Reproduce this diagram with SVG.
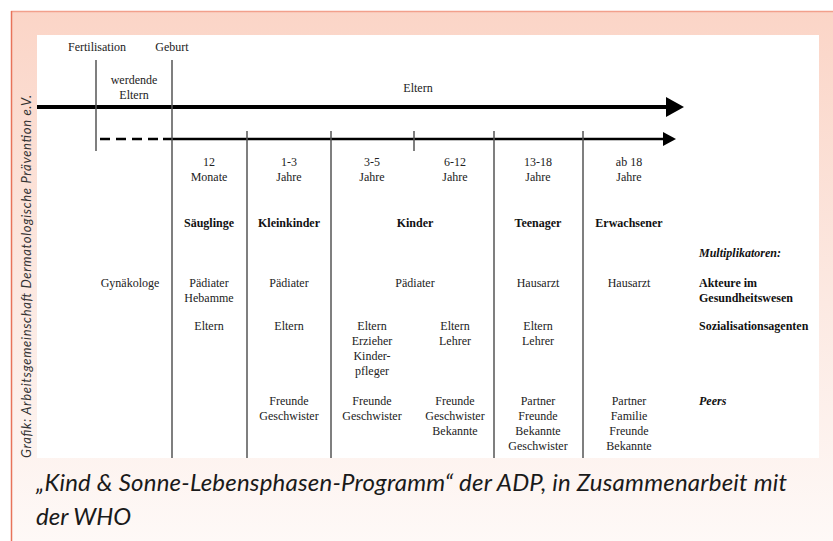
<svg xmlns="http://www.w3.org/2000/svg" width="833" height="541" viewBox="0 0 833 541">
<defs>
<linearGradient id="bg" x1="0" y1="0" x2="0" y2="1">
<stop offset="0" stop-color="#fbd5c7"/>
<stop offset="0.55" stop-color="#fce9e2"/>
<stop offset="1" stop-color="#fef9f7"/>
</linearGradient>
<marker id="ah1" markerWidth="18" markerHeight="20" refX="0" refY="10" orient="auto" markerUnits="userSpaceOnUse">
<path d="M0,0 L18,10 L0,20 Z" fill="#000"/>
</marker>
<marker id="ah2" markerWidth="13" markerHeight="14" refX="0" refY="7" orient="auto" markerUnits="userSpaceOnUse">
<path d="M0,0 L13,7 L0,14 Z" fill="#000"/>
</marker>
<style>
.t{font-size:12px;fill:#222;text-anchor:middle}
.b{font-weight:bold;fill:#111}
.l{text-anchor:start}
.bi{font-weight:bold;font-style:italic;fill:#111;text-anchor:start}
.div{stroke:#555;stroke-width:1.5;fill:none}
.cap{font-style:italic;font-size:24px;fill:#1a1a1a}
</style>
</defs>
<rect x="0" y="0" width="833" height="541" fill="#fff"/>
<rect x="11" y="11" width="822" height="530" fill="url(#bg)"/>
<line x1="11" y1="11.5" x2="833" y2="11.5" stroke="#f2a08c" stroke-width="1.5"/>
<line x1="11.5" y1="11" x2="11.5" y2="541" stroke="#e8735a" stroke-width="1.5"/>
<rect x="37" y="35" width="782" height="423" fill="#fff"/>
<text transform="translate(31,458) rotate(-90)" font-family="Lato, 'Open Sans', 'Liberation Sans', sans-serif" font-style="italic" font-size="13" fill="#333" textLength="363" lengthAdjust="spacing">Grafik:  Arbeitsgemeinschaft Dermatologische Prävention e.V.</text>

<g id="connectors">
<line x1="37" y1="107" x2="666" y2="107" stroke="#000" stroke-width="4" marker-end="url(#ah1)"/>
<line x1="100" y1="139" x2="163" y2="139" stroke="#000" stroke-width="2.5" stroke-dasharray="10,6"/>
<line x1="163" y1="139" x2="663" y2="139" stroke="#000" stroke-width="2.5" marker-end="url(#ah2)"/>
<line class="div" x1="96" y1="60" x2="96" y2="151"/>
<line class="div" x1="172" y1="60" x2="172" y2="458"/>
<line class="div" x1="247" y1="131" x2="247" y2="458"/>
<line class="div" x1="331" y1="131" x2="331" y2="458"/>
<line class="div" x1="414" y1="131" x2="414" y2="151"/>
<line class="div" x1="494" y1="131" x2="494" y2="458"/>
<line class="div" x1="583" y1="131" x2="583" y2="458"/>
</g>

<g font-family="'Liberation Serif', 'Times New Roman', serif">
<g id="header">
<text class="t" x="97" y="51">Fertilisation</text>
<text class="t" x="172" y="51">Geburt</text>
<text class="t" x="134" y="84">werdende</text>
<text class="t" x="134" y="99">Eltern</text>
<text class="t" x="418" y="92">Eltern</text>
</g>

<g id="col-saeuglinge">
<text class="t" x="209" y="166">12</text>
<text class="t" x="209" y="181">Monate</text>
<text class="t b" x="209" y="227">Säuglinge</text>
<text class="t" x="209" y="287">Pädiater</text>
<text class="t" x="209" y="302">Hebamme</text>
<text class="t" x="209" y="330">Eltern</text>
</g>

<g id="col-gyn">
<text class="t" x="130" y="287">Gynäkologe</text>
</g>

<g id="col-kleinkinder">
<text class="t" x="289" y="166">1-3</text>
<text class="t" x="289" y="181">Jahre</text>
<text class="t b" x="289" y="227">Kleinkinder</text>
<text class="t" x="289" y="287">Pädiater</text>
<text class="t" x="289" y="330">Eltern</text>
<text class="t" x="289" y="405">Freunde</text>
<text class="t" x="289" y="420">Geschwister</text>
</g>

<g id="col-kinder">
<text class="t" x="372" y="166">3-5</text>
<text class="t" x="372" y="181">Jahre</text>
<text class="t" x="455" y="166">6-12</text>
<text class="t" x="455" y="181">Jahre</text>
<text class="t b" x="415" y="227">Kinder</text>
<text class="t" x="415" y="287">Pädiater</text>
<text class="t" x="372" y="330">Eltern</text>
<text class="t" x="372" y="345">Erzieher</text>
<text class="t" x="372" y="360">Kinder-</text>
<text class="t" x="372" y="375">pfleger</text>
<text class="t" x="455" y="330">Eltern</text>
<text class="t" x="455" y="345">Lehrer</text>
<text class="t" x="372" y="405">Freunde</text>
<text class="t" x="372" y="420">Geschwister</text>
<text class="t" x="455" y="405">Freunde</text>
<text class="t" x="455" y="420">Geschwister</text>
<text class="t" x="455" y="435">Bekannte</text>
</g>

<g id="col-teenager">
<text class="t" x="538" y="166">13-18</text>
<text class="t" x="538" y="181">Jahre</text>
<text class="t b" x="538" y="227">Teenager</text>
<text class="t" x="538" y="287">Hausarzt</text>
<text class="t" x="538" y="330">Eltern</text>
<text class="t" x="538" y="345">Lehrer</text>
<text class="t" x="538" y="405">Partner</text>
<text class="t" x="538" y="420">Freunde</text>
<text class="t" x="538" y="435">Bekannte</text>
<text class="t" x="538" y="450">Geschwister</text>
</g>

<g id="col-erwachsener">
<text class="t" x="629" y="166">ab 18</text>
<text class="t" x="629" y="181">Jahre</text>
<text class="t b" x="629" y="227">Erwachsener</text>
<text class="t" x="629" y="287">Hausarzt</text>
<text class="t" x="629" y="405">Partner</text>
<text class="t" x="629" y="420">Familie</text>
<text class="t" x="629" y="435">Freunde</text>
<text class="t" x="629" y="450">Bekannte</text>
</g>

<g id="legend">
<text class="t bi" x="699" y="257">Multiplikatoren:</text>
<text class="t b l" x="699" y="287">Akteure im</text>
<text class="t b l" x="699" y="302">Gesundheitswesen</text>
<text class="t b l" x="699" y="330">Sozialisationsagenten</text>
<text class="t bi" x="699" y="405">Peers</text>
</g>
</g>

<g font-family="Lato, 'Open Sans', 'Liberation Sans', sans-serif">
<text class="cap" x="36" y="491" textLength="751" lengthAdjust="spacing">„Kind &amp; Sonne-Lebensphasen-Programm“ der ADP, in Zusammenarbeit mit</text>
<text class="cap" x="36" y="525">der WHO</text>
</g>
</svg>
